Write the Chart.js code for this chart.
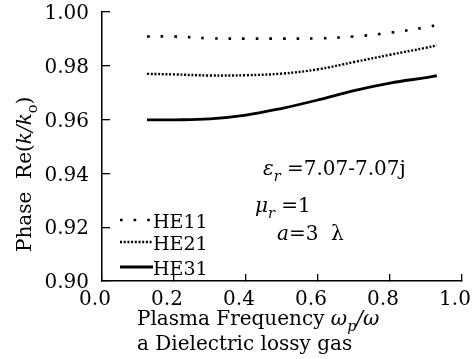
<!DOCTYPE html>
<html>
<head>
<meta charset="utf-8">
<script src="https://cdn.jsdelivr.net/npm/chart.js@4.4.1/dist/chart.umd.min.js"></script>
<style>
  html, body { margin: 0; padding: 0; background: #fff; }
  #wrap { width: 472px; height: 359px; }
</style>
</head>
<body>
<div id="wrap"><canvas id="chart" width="472" height="359"></canvas></div>
<script>
// values (plasma frequency wp/w vs Re(k/k0))
const freq = [0.125, 0.2, 0.3, 0.4, 0.5, 0.6, 0.7, 0.8, 0.9, 0.93];
const he11 = [0.9909, 0.9909, 0.9902, 0.9901, 0.9901, 0.9902, 0.9909, 0.9923, 0.9943, 0.9952];
const he21 = [0.977, 0.9768, 0.9764, 0.9765, 0.9771, 0.9787, 0.9814, 0.9841, 0.9867, 0.9876];
const he31 = [0.9599, 0.9599, 0.9603, 0.9617, 0.9642, 0.9673, 0.9708, 0.9736, 0.9756, 0.9763];
const seriesNames = ["HE11", "HE21", "HE31"];
const xTicks = [0, 0.2, 0.4, 0.6, 0.8, 1.0];
const yTicks = [0.90, 0.92, 0.94, 0.96, 0.98, 1.00];

const FONT = '"DejaVu Serif", serif';

const toPoints = (ys) => freq.map((x, i) => ({ x: x, y: ys[i] }));

// draws a run of text pieces (italic / subscript) starting at x,y
function drawRich(ctx, x, y, parts, size) {
  parts.forEach((p) => {
    const fs = p.sub ? size * 0.72 : size;
    ctx.font = (p.italic ? "italic " : "") + fs + "px " + FONT;
    ctx.fillText(p.t, x, y + (p.sub ? size * 0.28 : 0));
    x += ctx.measureText(p.t).width;
  });
}

const textPlugin = {
  id: "texts",
  afterDraw(chart) {
    const ctx = chart.ctx;
    ctx.save();
    ctx.fillStyle = "#000";
    ctx.textAlign = "left";
    ctx.textBaseline = "alphabetic";

    // y axis title
    ctx.save();
    ctx.translate(31, 252);
    ctx.rotate(-Math.PI / 2);
    drawRich(ctx, 0, 0, [
      { t: "Phase  Re(" },
      { t: "k/k", italic: true },
      { t: "o", sub: true },
      { t: ")" },
    ], 20);
    ctx.restore();

    // x axis title
    drawRich(ctx, 137, 325, [
      { t: "Plasma Frequency " },
      { t: "ω", italic: true },
      { t: "p", italic: true, sub: true },
      { t: "/ω", italic: true },
    ], 20);
    drawRich(ctx, 137, 350, [{ t: "a Dielectric lossy gas" }], 20);

    // parameters
    drawRich(ctx, 263, 175, [
      { t: "ε", italic: true },
      { t: "r", italic: true, sub: true },
      { t: " =7.07-7.07j" },
    ], 20);
    drawRich(ctx, 255, 212, [
      { t: "μ", italic: true },
      { t: "r", italic: true, sub: true },
      { t: " =1" },
    ], 20);
    drawRich(ctx, 277, 240, [
      { t: "a", italic: true },
      { t: "=3  λ" },
    ], 20);

    // legend, styled from the datasets
    const rows = [220, 242, 267];
    chart.data.datasets.forEach((ds, i) => {
      ctx.save();
      ctx.strokeStyle = ds.borderColor;
      ctx.lineWidth = ds.borderWidth;
      ctx.setLineDash(ds.borderDash || []);
      ctx.beginPath();
      ctx.moveTo(120, rows[i]);
      ctx.lineTo(153, rows[i]);
      ctx.stroke();
      ctx.restore();
      drawRich(ctx, 153, rows[i] + 8, [{ t: ds.label }], 19);
    });
    ctx.restore();
  },
};

const lineStyles = [
  { borderWidth: 2.6, borderDash: [2.6, 11] },
  { borderWidth: 2.4, borderDash: [2, 1.7] },
  { borderWidth: 2.8, borderDash: [] },
];

new Chart(document.getElementById("chart"), {
  type: "line",
  data: {
    datasets: [he11, he21, he31].map((ys, i) => ({
      label: seriesNames[i],
      data: toPoints(ys),
      borderColor: "#000",
      borderWidth: lineStyles[i].borderWidth,
      borderDash: lineStyles[i].borderDash,
      borderCapStyle: "butt",
      pointRadius: 0,
      fill: false,
      tension: 0.4,
    })),
  },
  options: {
    responsive: false,
    animation: false,
    layout: { padding: { top: 12, right: 10, left: 0, bottom: 0 } },
    plugins: {
      legend: { display: false },
      tooltip: { enabled: false },
    },
    scales: {
      x: {
        type: "linear",
        min: 0,
        max: 1,
        afterBuildTicks: (s) => { s.ticks = xTicks.map((v) => ({ value: v })); },
        afterFit: (s) => { s.height = 78; s.paddingLeft = 0; s.paddingRight = 0; },
        grid: { drawOnChartArea: false, tickLength: -7, color: "#000", lineWidth: 1.3 },
        border: { color: "#000", width: 1.5 },
        ticks: {
          padding: 14,
          labelOffset: -7,
          color: "#000",
          maxRotation: 0,
          autoSkip: false,
          font: { family: FONT, size: 20 },
          callback: (v) => Number(v).toFixed(1),
        },
      },
      y: {
        type: "linear",
        min: 0.9,
        max: 1.0,
        afterBuildTicks: (s) => { s.ticks = yTicks.map((v) => ({ value: v })); },
        afterFit: (s) => { s.width = 102; s.paddingTop = 0; s.paddingBottom = 0; },
        grid: { drawOnChartArea: false, tickLength: -8, color: "#000", lineWidth: 1.3 },
        border: { color: "#000", width: 1.5 },
        ticks: {
          padding: 21,
          labelOffset: 2,
          color: "#000",
          font: { family: FONT, size: 20 },
          callback: (v) => Number(v).toFixed(2),
        },
      },
    },
  },
  plugins: [textPlugin],
});
</script>
</body>
</html>
